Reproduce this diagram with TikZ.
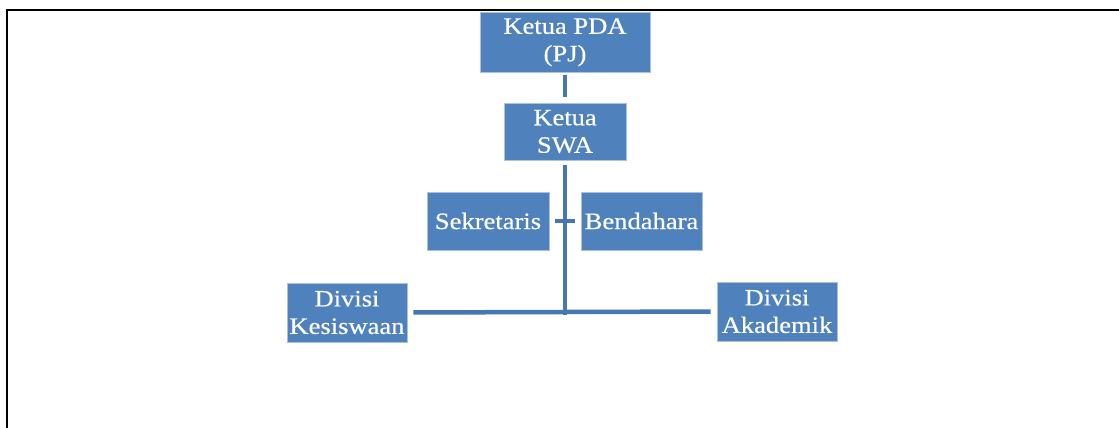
\documentclass[tikz,border=0pt]{standalone}
\usepackage{fontspec}
\setmainfont{Liberation Serif}[FakeStretch=1.13,FakeBold=0.4]
\usetikzlibrary{calc}
\definecolor{boxblue}{HTML}{4F81BD}
\definecolor{boxedge}{HTML}{A9C0DE}
\definecolor{linkblue}{HTML}{4776B4}
\begin{document}
\begin{tikzpicture}[x=1pt,y=-1pt,
  orgbox/.style={rectangle, fill=boxblue, draw=boxedge, line width=0.6pt,
    text=white, align=center, inner sep=0pt,
    font=\fontsize{23.5}{27.5}\selectfont},
  link/.style={draw=linkblue, line width=4.5pt}]
\useasboundingbox (0,0) rectangle (1119,428);
% frame
\draw[line width=2pt, black] (6.5,430) -- (6.5,10.5) -- (1121,10.5);
% boxes
\node[orgbox, minimum width=170pt, minimum height=59.5pt] (pda) at (565,42.3) {Ketua PDA\\(PJ)};
\node[orgbox, minimum width=122pt, minimum height=57pt] (swa) at (565,131.5) {Ketua\\SWA};
\node[orgbox, minimum width=122pt, minimum height=58pt] (sek) at (488,221) {Sekretaris};
\node[orgbox, minimum width=121pt, minimum height=58pt] (ben) at (641.5,221) {Bendahara};
\node[orgbox, minimum width=120pt, minimum height=59pt] (kes) at (347,312.5) {Divisi\\Kesiswaan};
\node[orgbox, minimum width=120pt, minimum height=59pt] (aka) at (777,311.5) {Divisi\\Akademik};
% connectors
\draw[link, shorten <=3pt, shorten >=6pt] (pda.south) -- (swa.north);
\coordinate (junc) at (swa.south |- kes.east);
\draw[link, shorten <=5pt] (swa.south) -- ($(junc)+(0,2)$);
\draw[link, shorten <=6pt, shorten >=6pt] (kes.east) -- (aka.west);
\draw[link, line width=4pt, shorten <=6pt, shorten >=6pt] (sek.east) -- (ben.west);
\end{tikzpicture}
\end{document}
